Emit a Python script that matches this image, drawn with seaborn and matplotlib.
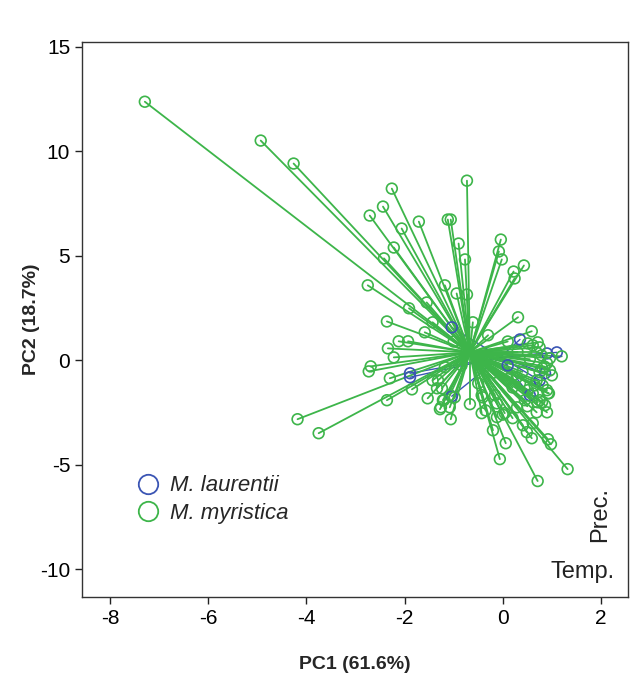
import numpy as np
import pandas as pd
import matplotlib
matplotlib.use("Agg")
import matplotlib.pyplot as plt
from matplotlib.lines import Line2D
import seaborn as sns

# PCA scores
myr_pc1 = [-7.29, -4.93, -4.26, -2.26, -2.44, -2.71, -1.71, -2.06, -1.12, -1.06,
           -0.73, -2.22, -2.42, -2.75, -0.90, -0.77, -1.18, -1.55, -0.94, -0.73,
           -0.04, -0.08, -0.02, 0.43, 0.22, 0.24, -1.91, -2.36, -1.59, -1.43,
           -2.12, -1.93, -2.34, -2.22, -2.69, -2.73, -2.30, -1.85, -2.36, -1.53,
           -1.20, -1.34, -4.18, -3.75, -1.28, -1.08, -1.06, -0.67, -0.43, -0.12,
           -0.20, 0.06, -0.06, 0.71, 1.32, 0.59, 0.49, 0.92, 0.98, 0.41,
           0.61, 0.20, 0.04, -0.12, -0.43, 0.69, 0.90, 0.71, 0.94, 0.31,
           0.59, 0.71, 0.51, 0.61, 0.75, 1.20, 0.96, 0.69, 0.79, 0.90,
           0.96, 1.00, 0.81, 0.75, 0.69, 0.81, 0.90, 0.92, 0.29, 0.35,
           0.51, 0.61, 0.75, 0.86, 0.45, 0.29, -0.16, -0.41, -0.98, -1.08,
           -0.61, -1.24, -1.22, -1.43, -1.32, -1.18, -0.84, -1.26, -0.30, 0.10,
           -0.20, 0.10, -1.00, 0.30, -0.50, 0.20, 0.55, 0.85, 0.40, 0.65,
           -0.35, 0.00, 0.80, 0.50]
myr_pc2 = [12.38, 10.52, 9.42, 8.22, 7.36, 6.93, 6.64, 6.31, 6.74, 6.74,
           8.60, 5.40, 4.88, 3.59, 5.59, 4.83, 3.59, 2.77, 3.20, 3.15,
           5.78, 5.21, 4.83, 4.54, 4.25, 3.92, 2.49, 1.86, 1.34, 1.82,
           0.91, 0.91, 0.57, 0.14, -0.29, -0.53, -0.86, -1.39, -1.91, -1.82,
           -1.91, -1.34, -2.82, -3.49, -2.34, -2.25, -2.82, -2.10, -2.53, -2.72,
           -3.35, -3.97, -4.73, -5.78, -5.21, -3.73, -3.44, -3.78, -4.02, -3.11,
           -3.01, -2.77, -2.53, -2.06, -1.67, -2.49, -2.49, -2.01, -1.58, 2.06,
           1.39, 0.86, 0.81, 0.72, 0.62, 0.19, 0.10, 0.38, 0.24, -0.14,
           -0.48, -0.72, -0.38, -0.57, -0.96, -1.20, -1.43, -1.58, -0.81, -1.10,
           -1.43, -1.58, -1.91, -2.15, -1.91, -2.25, -1.67, -1.77, -1.77, -1.67,
           1.82, -1.34, -1.91, -0.96, -0.96, -0.33, -0.24, -2.25, 1.20, 0.90,
           -0.60, -0.90, 0.90, 0.40, -1.10, -1.30, 0.05, -0.30, -0.55, -1.20,
           -2.40, -2.60, -2.00, -2.20]

lau_pc1 = [0.35, 1.10, 0.90, 0.55, -1.04, -1.89, -1.04, 0.86, 0.10, 0.75, -1.89]
lau_pc2 = [1.00, 0.38, 0.33, -1.67, -1.72, -0.62, 1.58, -0.62, -0.24, -0.96, -0.81]

# group centroids (spider centres)
centroid_myr = (-0.67, 0.38)
centroid_lau = (-0.05, 0.15)

species = ["M. laurentii", "M. myristica"]
colors = {"M. laurentii": "#3b55b4", "M. myristica": "#3db54a"}

# loading labels
load_labels = ["Prec.", "Temp."]
load_pos = [(1.98, -7.4), (1.63, -10.15)]


def spider_frame(xs, ys, centre, name):
    rows = []
    for i, (x, y) in enumerate(zip(xs, ys)):
        rows.append({"uid": f"{name}_{i}", "x": centre[0], "y": centre[1], "sp": name})
        rows.append({"uid": f"{name}_{i}", "x": x, "y": y, "sp": name})
    return pd.DataFrame(rows)


pts = {
    "M. laurentii": pd.DataFrame({"x": lau_pc1, "y": lau_pc2}),
    "M. myristica": pd.DataFrame({"x": myr_pc1, "y": myr_pc2}),
}
segs = {
    "M. laurentii": spider_frame(lau_pc1, lau_pc2, centroid_lau, "lau"),
    "M. myristica": spider_frame(myr_pc1, myr_pc2, centroid_myr, "myr"),
}

sns.set_style("white")
plt.rcParams["font.family"] = ["Liberation Sans", "DejaVu Sans"]
plt.rcParams["axes.unicode_minus"] = False

fig = plt.figure(figsize=(6.42, 6.76), dpi=100)
ax = fig.add_axes([0.1277, 0.1169, 0.8505, 0.821])

for sp in species:
    col = colors[sp]
    lw = 1.0 if sp == "M. laurentii" else 1.3
    sns.lineplot(data=segs[sp], x="x", y="y", units="uid", estimator=None,
                 sort=False, color=col, linewidth=lw, ax=ax, legend=False)
    sns.scatterplot(data=pts[sp], x="x", y="y", marker="o", s=60,
                    color=col, facecolors="none", edgecolor=col,
                    linewidth=1.2, ax=ax, legend=False, zorder=3)

ax.set_xlim(-8.57, 2.55)
ax.set_ylim(-11.33, 15.24)
ax.set_xticks([-8, -6, -4, -2, 0, 2])
ax.set_yticks([-10, -5, 0, 5, 10, 15])
ax.tick_params(direction="out", length=5, width=1, labelsize=15,
               bottom=True, left=True, colors="#222222", labelcolor="black")
for s in ax.spines.values():
    s.set_color("#333333")
    s.set_linewidth(1)

ax.set_xlabel("PC1 (61.6%)", fontsize=14, fontweight="bold", labelpad=20)
ax.set_ylabel("PC2 (18.7%)", fontsize=14, fontweight="bold", labelpad=0)

ax.text(*load_pos[0], load_labels[0], rotation=90, ha="center", va="center",
        fontsize=17, color="#222222")
ax.text(*load_pos[1], load_labels[1], ha="center", va="center",
        fontsize=17, color="#222222")

handles = [Line2D([], [], marker="o", linestyle="none", markersize=14,
                  markerfacecolor="none", markeredgecolor=colors[sp],
                  markeredgewidth=1.3) for sp in species]
leg = ax.legend(handles, species, loc="upper left", bbox_to_anchor=(0.08, 0.235),
                frameon=False, fontsize=16, handletextpad=0.4,
                labelspacing=0.3, borderaxespad=0, handlelength=1.2)
for t in leg.get_texts():
    t.set_fontstyle("italic")

plt.savefig("out.png", dpi=100)
